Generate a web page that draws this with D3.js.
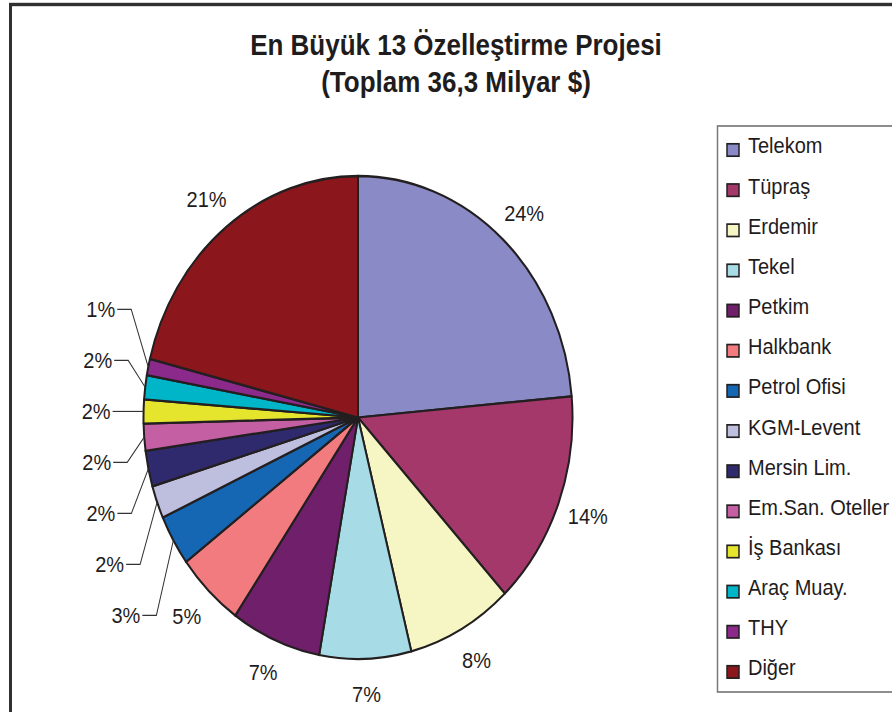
<!DOCTYPE html>
<html><head><meta charset="utf-8">
<script src="https://cdn.jsdelivr.net/npm/d3@7"></script>
<style>html,body{margin:0;padding:0;background:#fff;} svg{display:block;font-family:"Liberation Sans",Arial,sans-serif;}</style>
</head><body><svg id="chart" width="892" height="712"></svg>
<script>
const titleLines = ["En Büyük 13 Özelleştirme Projesi", "(Toplam 36,3 Milyar $)"];
const categories = ["Telekom","Tüpraş","Erdemir","Tekel","Petkim","Halkbank","Petrol Ofisi","KGM-Levent","Mersin Lim.","Em.San. Oteller","İş Bankası","Araç Muay.","THY","Diğer"];
const shares = [23.6,14.4,8.0,6.9,6.8,5.1,3.4,2.2,2.4,1.8,1.6,1.6,1.1,21.1];
const colors = ["#8a8ac6","#a4386a","#f6f5c4","#a7dce6","#701f6b","#f17b7e","#1667b3","#bebedf","#2f2a6d","#c55fa3","#e6e52e","#00b5c8","#8c2a8c","#8b171c"];

const W = 892, H = 712;
const K = 241.5 / 214.5;           // vertical stretch of the original picture
const iy = y => y / K;
const svg = d3.select("#chart");
svg.append("rect").attr("width", W).attr("height", H).attr("fill", "#fff");
const g = svg.append("g").attr("transform", `scale(1,${K})`);

// outer frame
g.append("rect").attr("x", 10.5).attr("y", iy(4.5)).attr("width", W).attr("height", H)
  .attr("fill", "none").attr("stroke", "#303030").attr("stroke-width", 3);

// title
g.append("g").selectAll("text").data(titleLines).join("text")
  .attr("x", 456).attr("y", (d, i) => iy(55 + i * 37))
  .attr("text-anchor", "middle").attr("font-size", 26).attr("font-weight", "bold")
  .attr("fill", "#1f1c1d").text(d => d);

const data = categories.map((c, i) => ({name: c, value: shares[i], color: colors[i]}));
const total = d3.sum(shares);
const pie = d3.pie().value(d => d.value).sort(null);
const arcs = pie(data);
const cx = 358, cy = iy(417.5), R = 214.5;
const arc = d3.arc().innerRadius(0).outerRadius(R);
const pg = g.append("g").attr("transform", `translate(${cx},${cy})`);
pg.selectAll("path").data(arcs).join("path")
  .attr("d", arc).attr("fill", d => d.data.color)
  .attr("stroke", "#231f20").attr("stroke-width", 2).attr("stroke-linejoin", "round");

const pct = d => Math.round(d.value / total * 100) + "%";
const mid = d => (d.startAngle + d.endAngle) / 2;
const pt = (a, r) => [r * Math.sin(a), -r * Math.cos(a)];
const SMALL = 4;
const LABEL_R = 246;
const big = arcs.filter(d => d.data.value >= SMALL);
const small = arcs.filter(d => d.data.value < SMALL);

pg.selectAll("text.big").data(big).join("text").attr("class", "big")
  .attr("x", d => pt(mid(d), LABEL_R)[0]).attr("y", d => pt(mid(d), LABEL_R)[1])
  .attr("text-anchor", "middle").attr("dominant-baseline", "central")
  .attr("font-size", 20).attr("fill", "#1f1c1d").text(d => pct(d.data));

// small slices: stacked labels with leader lines
let jp = 0, best = 1e9;
small.forEach((d, j) => { const dd = Math.abs(mid(d) - 1.5 * Math.PI); if (dd < best) { best = dd; jp = j; } });
const pivotY = pt(mid(small[jp]), R)[1];
const spacing = iy(51);
const lab = small.map((d, j) => {
  const p = pt(mid(d), R);
  const ly = pivotY - (j - jp) * spacing;
  const ex = p[0] - 17;
  return {d, p, ly, ex, lx: ex - 14};
});
pg.selectAll("path.leader").data(lab).join("path").attr("class", "leader")
  .attr("d", o => `M${o.p[0]},${o.p[1]}L${o.ex},${o.ly}L${o.lx},${o.ly}`)
  .attr("fill", "none").attr("stroke", "#333").attr("stroke-width", 1);
pg.selectAll("text.small").data(lab).join("text").attr("class", "small")
  .attr("x", o => o.lx - 2).attr("y", o => o.ly)
  .attr("text-anchor", "end").attr("dominant-baseline", "central")
  .attr("font-size", 20).attr("fill", "#1f1c1d").text(o => pct(o.d.data));

// legend
const lg = g.append("g");
lg.append("rect").attr("x", 717.5).attr("y", iy(126)).attr("width", 200).attr("height", iy(692) - iy(126))
  .attr("fill", "none").attr("stroke", "#7a7a7a").attr("stroke-width", 1.5);
const rows = lg.selectAll("g.row").data(data).join("g").attr("class", "row");
rows.append("rect").attr("x", 727).attr("y", (d, i) => iy(150 + i * 40.15) - 5.5)
  .attr("width", 12).attr("height", 11).attr("fill", d => d.color)
  .attr("stroke", "#231f20").attr("stroke-width", 1.5);
rows.append("text").attr("x", 748).attr("y", (d, i) => iy(153.5 + i * 40.15))
  .attr("font-size", 20).attr("fill", "#1f1c1d").text(d => d.name);
</script></body></html>
